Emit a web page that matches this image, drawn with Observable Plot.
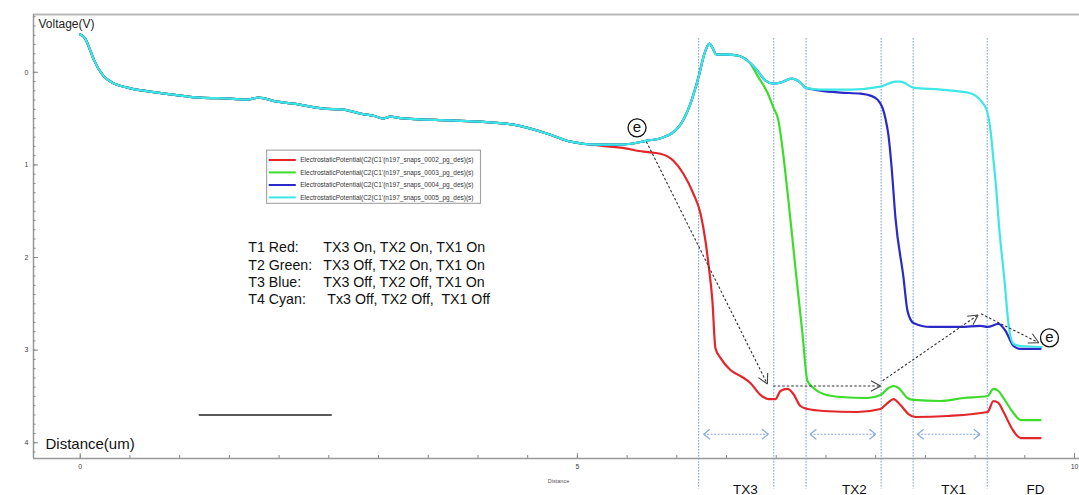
<!DOCTYPE html>
<html><head><meta charset="utf-8">
<script src="https://cdn.jsdelivr.net/npm/d3@7"></script>
<script src="https://cdn.jsdelivr.net/npm/@observablehq/plot@0.6"></script>
<style>body{margin:0;background:#fff;} svg{display:block;}</style>
</head><body><div id="chart"></div>
<script>
// ---------- data (distance um, voltage V) ----------
const leftPart = [[0,-0.408],[0.050,-0.364],[0.101,-0.235],[0.141,-0.126],[0.231,0.036],[0.322,0.111],[0.473,0.165],[0.704,0.209],[0.936,0.241],[1.207,0.274],[1.509,0.284],[1.680,0.295],[1.791,0.274],[1.982,0.317],[2.143,0.338],[2.445,0.392],[2.646,0.403],[2.817,0.446],[2.968,0.475],[3.048,0.500],[3.119,0.478],[3.219,0.495],[3.722,0.520],[4.024,0.533],[4.356,0.565],[4.698,0.663]];
const redTail = [[4.779,0.695],[4.859,0.728],[5.231,0.792],[5.433,0.814],[5.664,0.857],[5.835,0.879],[5.966,0.955],[6.066,1.095],[6.167,1.311],[6.237,1.520],[6.288,1.819],[6.318,2.068],[6.358,2.468],[6.388,2.976],[6.439,3.084],[6.539,3.214],[6.640,3.279],[6.740,3.354],[6.841,3.484],[6.922,3.528],[6.992,3.528],[7.042,3.441],[7.113,3.419],[7.173,3.474],[7.243,3.603],[7.314,3.636],[7.475,3.657],[7.817,3.668],[8.048,3.636],[8.119,3.571],[8.179,3.528],[8.249,3.592],[8.330,3.690],[8.400,3.722],[8.722,3.711],[9.125,3.668],[9.185,3.549],[9.235,3.571],[9.286,3.668],[9.386,3.873],[9.457,3.949],[9.658,3.949]];
const cyanRise = [[4.930,0.749],[5.201,0.782],[5.433,0.782],[5.704,0.738],[5.855,0.706],[6.036,0.565],[6.137,0.338],[6.217,0.057],[6.278,-0.202],[6.328,-0.310],[6.358,-0.267],[6.398,-0.191],[6.509,-0.191],[6.610,-0.181]];
const cyanTop = [[6.710,-0.126],[6.811,-0.018],[6.892,0.090],[6.972,0.122],[7.042,0.111],[7.153,0.068],[7.243,0.111],[7.294,0.165]];
const cyanTail = [[7.445,0.187],[7.746,0.187],[8.048,0.155],[8.199,0.101],[8.249,0.101],[8.380,0.165],[8.652,0.187],[8.853,0.209],[8.924,0.219],[9.004,0.252],[9.074,0.328],[9.125,0.436],[9.155,0.628],[9.188,0.985],[9.205,1.171],[9.245,1.712],[9.296,2.252],[9.336,2.717],[9.386,2.933],[9.457,2.955],[9.668,2.966]];
const blueTail = [[7.445,0.198],[7.646,0.219],[7.847,0.230],[7.948,0.252],[8.018,0.295],[8.068,0.382],[8.099,0.501],[8.129,0.685],[8.159,1.009],[8.199,1.571],[8.280,2.219],[8.320,2.576],[8.380,2.706],[8.551,2.749],[8.853,2.749],[9.054,2.738],[9.125,2.749],[9.235,2.717],[9.306,2.792],[9.386,2.955],[9.457,2.987],[9.658,2.987]];
const greenTail = [[6.670,-0.159],[6.740,-0.094],[6.811,0.036],[6.911,0.219],[6.972,0.382],[7.022,0.522],[7.062,0.814],[7.093,1.095],[7.123,1.389],[7.193,2.111],[7.264,2.825],[7.314,3.333],[7.374,3.408],[7.475,3.474],[7.646,3.506],[7.918,3.517],[8.048,3.485],[8.129,3.408],[8.179,3.387],[8.229,3.408],[8.320,3.517],[8.380,3.538],[8.652,3.549],[8.883,3.517],[9.125,3.495],[9.185,3.419],[9.235,3.441],[9.286,3.517],[9.386,3.679],[9.457,3.755],[9.658,3.755]];

const seriesNames = ["T1","T2","T3","T4"];
const seriesColors = ["#e3262a","#3ddc2c","#2a2ac8","#3ee6e6"];
const legendLabels = [
  "ElectrostaticPotential(C2(C1'(n197_snaps_0002_pg_des)(s)",
  "ElectrostaticPotential(C2(C1'(n197_snaps_0003_pg_des)(s)",
  "ElectrostaticPotential(C2(C1'(n197_snaps_0004_pg_des)(s)",
  "ElectrostaticPotential(C2(C1'(n197_snaps_0005_pg_des)(s)"
];
const stateLabels = ["T1 Red:","T2 Green:","T3 Blue:","T4 Cyan:"];
const stateTexts = ["TX3 On, TX2 On, TX1 On","TX3 Off, TX2 On, TX1 On","TX3 Off, TX2 Off, TX1 On","Tx3 Off, TX2 Off,\u00a0 TX1 Off"];
const gateEdges = [6.22, 6.975, 7.30, 8.055, 8.377, 9.122];
const regionNames = ["TX3","TX2","TX1","FD"];
const regionCenters = [6.69, 7.787, 8.783, 9.608];
const yTickLabels = [0,1,2,3,4];
const xTickLabels = [0,5,10];

const curves = {
  T1: [...leftPart, ...redTail],
  T2: [...leftPart, ...cyanRise, ...greenTail],
  T3: [...leftPart, ...cyanRise, ...cyanTop, ...blueTail],
  T4: [...leftPart, ...cyanRise, ...cyanTop, ...cyanTail]
};
const rows = seriesNames.flatMap(s => curves[s].map(([x, v]) => ({series: s, x, v})));

// ---------- layout ----------
const W = 1079, H = 495, mL = 33, mR = 0, mT = 14, mB = 37;
const xMin = -0.47, xMax = 10.05, yTop = -0.624, yBot = 4.17;
const yMinor = d3.range(-6, 42).map(i => i / 10);
const xMinor = d3.range(0, 21).map(i => i / 2);
const kx = (W - mL - mR) / (xMax - xMin);
const ky = (H - mT - mB) / (yBot - yTop);

// annotation geometry (data units)
const spanArrows = [[6.27, 6.92], [7.34, 8.00], [8.42, 9.05]];
const spanY = 3.908;
const pathArrows = [
  {x1: 5.694, y1: 0.749, x2: 6.911, y2: 3.366},
  {x1: 6.97, y1: 3.387, x2: 8.05, y2: 3.387},
  {x1: 8.07, y1: 3.33, x2: 9.03, y2: 2.62},
  {x1: 9.06, y1: 2.608, x2: 9.64, y2: 2.92}
];
const electrons = [{x: 5.60, y: 0.60}, {x: 9.748, y: 2.868}];
const legendBox = {x1: 1.88, x2: 4.03, y1: 0.846, y2: 1.42};
const legendRowsY = [0.947, 1.081, 1.217, 1.351];
const stateRowsY = [1.895, 2.085, 2.274, 2.458];

// open chevron heads built in pixel space, mapped back to data units
function wings(a, L, halfDeg) {
  const ang = Math.atan2((a.y2 - a.y1) * ky, (a.x2 - a.x1) * kx);
  const h = halfDeg * Math.PI / 180;
  return [1, -1].map(s => {
    const t = ang + Math.PI + s * h;
    return {x1: a.x2, y1: a.y2, x2: a.x2 + L * Math.cos(t) / kx, y2: a.y2 + L * Math.sin(t) / ky};
  });
}
const spanSegs = spanArrows.flatMap(([a, b]) => [{x1: b, y1: spanY, x2: a, y2: spanY}, {x1: a, y1: spanY, x2: b, y2: spanY}]);
const spanWings = spanSegs.flatMap(s => wings(s, 8, 38));
const pathWings = pathArrows.flatMap(s => wings(s, 11, 28));

const font = "Liberation Sans, Arial, sans-serif";

const chart = Plot.plot({
  width: W, height: H,
  marginLeft: mL, marginRight: mR, marginTop: mT, marginBottom: mB,
  style: {fontFamily: font, background: "#fff", overflow: "visible"},
  x: {domain: [xMin, xMax], axis: null},
  y: {domain: [yTop, yBot], reverse: true, axis: null},
  color: {domain: seriesNames, range: seriesColors},
  marks: [
    // frame lines
    Plot.ruleY([yTop], {x1: xMin, x2: xMax, stroke: "#b8b8b8", strokeWidth: 2}),
    Plot.ruleX([xMin], {y1: yTop, y2: yBot, stroke: "#999", strokeWidth: 1.5}),
    Plot.ruleY([yBot], {x1: xMin, x2: xMax, stroke: "#999", strokeWidth: 1.5}),
    // axes
    Plot.axisY({ticks: yMinor, tickSize: -2.5, tickFormat: () => "", label: null, stroke: "#888"}),
    Plot.axisY({ticks: yTickLabels, tickSize: -5, tickFormat: () => "", label: null, stroke: "#888"}),
    Plot.axisY({ticks: yTickLabels, tickSize: 0, tickPadding: 5, tickFormat: d => String(d), label: null, fontSize: 7, fill: "#444"}),
    Plot.axisX({ticks: xMinor, tickSize: -3, tickFormat: () => "", label: null, stroke: "#888"}),
    Plot.axisX({ticks: xTickLabels, tickSize: -5, tickFormat: () => "", label: null, stroke: "#888"}),
    Plot.axisX({ticks: xTickLabels, tickSize: 0, tickPadding: 6, tickFormat: d => String(d), label: null, fontSize: 7, fill: "#444"}),
    Plot.text(["Distance"], {frameAnchor: "bottom", x: 4.81, dy: 24, fontSize: 5.5, fill: "#555"}),
    Plot.text(["Voltage(V)"], {x: xMin, y: yTop, dx: 5, dy: 10, textAnchor: "start", fontSize: 12, fill: "#222"}),
    Plot.text(["Distance(um)"], {x: xMin, y: yBot, dx: 12, dy: -14, textAnchor: "start", fontSize: 15, fill: "#111"}),
    // gate boundaries
    Plot.ruleX(gateEdges, {y1: -0.364, y2: 4.50, stroke: "#6f95d8", strokeWidth: 1, strokeDasharray: "1.5,1.5"}),
    // region span arrows
    Plot.link(spanArrows, {x1: d => d[0], x2: d => d[1], y1: spanY, y2: spanY, stroke: "#86a8e2", strokeWidth: 1.2, strokeDasharray: "2,1.5"}),
    Plot.link(spanWings, {x1: "x1", y1: "y1", x2: "x2", y2: "y2", stroke: "#86a8e2", strokeWidth: 1.2}),
    // curves
    Plot.line(rows, {x: "x", y: "v", z: "series", stroke: "series", strokeWidth: 2.2, curve: "monotone-x"}),
    // scale bar
    Plot.ruleY([3.70], {x1: 1.197, x2: 2.535, stroke: "#222", strokeWidth: 1.5}),
    // legend
    Plot.rect([legendBox], {x1: "x1", x2: "x2", y1: "y1", y2: "y2", fill: "#fff", stroke: "#999", strokeWidth: 1}),
    Plot.ruleY(legendRowsY, {x1: 1.901, x2: 2.173, stroke: (d, i) => seriesNames[i], strokeWidth: 2}),
    Plot.text(legendLabels, {x: 2.213, y: (d, i) => legendRowsY[i], text: d => d, textAnchor: "start", fontSize: 6.5, fill: "#333"}),
    // state text block
    Plot.text(stateLabels, {x: 1.69, y: (d, i) => stateRowsY[i], text: d => d, textAnchor: "start", fontSize: 14.2, fill: "#111"}),
    Plot.text(stateTexts, {x: (d, i) => i === 3 ? 2.485 : 2.445, y: (d, i) => stateRowsY[i], text: d => d, textAnchor: "start", fontSize: 14.2, fill: "#111"}),
    // electron path
    Plot.link(pathArrows, {x1: "x1", y1: "y1", x2: "x2", y2: "y2", stroke: "#333", strokeWidth: 1.1, strokeDasharray: "2.5,2"}),
    Plot.link(pathWings, {x1: "x1", y1: "y1", x2: "x2", y2: "y2", stroke: "#444", strokeWidth: 1.1}),
    Plot.dot(electrons, {x: "x", y: "y", r: 9, fill: "#fff", stroke: "#111", strokeWidth: 1.3}),
    Plot.text(electrons, {x: "x", y: "y", text: () => "e", fontSize: 15, fill: "#111", dy: -1}),
    // region labels
    Plot.text(regionNames, {x: (d, i) => regionCenters[i], y: yBot, dy: 31, text: d => d, fontSize: 13.5, fill: "#111"})
  ]
});
document.getElementById("chart").appendChild(chart);
</script>
</body></html>
